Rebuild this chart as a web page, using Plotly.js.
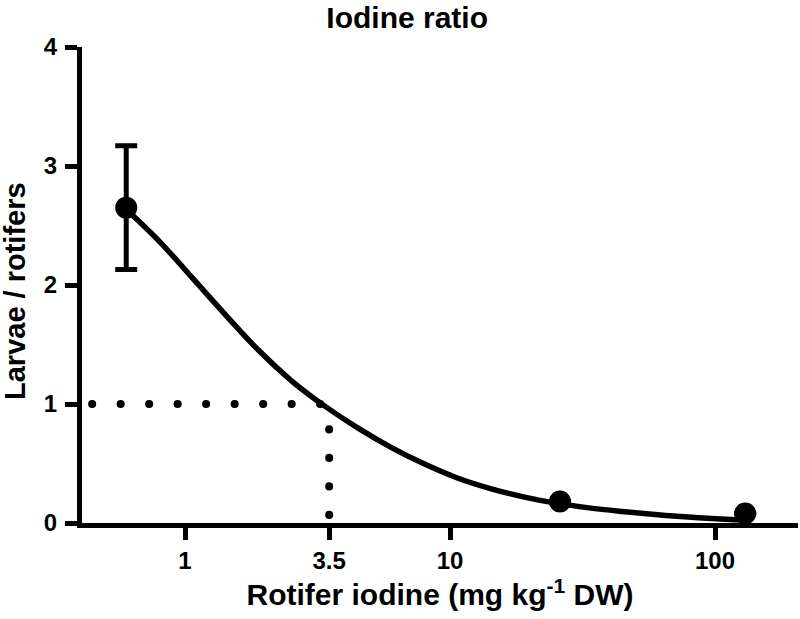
<!DOCTYPE html>
<html>
<head>
<meta charset="utf-8">
<script src="https://cdn.plot.ly/plotly-3.0.1.min.js"></script>
<style>
  html, body { margin: 0; padding: 0; background: #fff; }
  #chart { width: 800px; height: 619px; }
  .scatterlayer .trace:nth-child(1) path.js-line { stroke-linecap: round !important; stroke-dashoffset: 18.4px; }
  .scatterlayer .trace:nth-child(2) path.js-line { stroke-linecap: round !important; stroke-dashoffset: 20.4px; }
</style>
</head>
<body>
<div id="chart"></div>
<script>
// Measured points (mean +/- error)
const pointX = [0.6, 26, 130];
const pointY = [2.65, 0.18, 0.08];
const pointErr = [0.52, null, null];

// Fitted curve
const fitX = [0.604, 0.805, 1.07, 1.43, 1.90, 2.53, 3.38, 4.50, 5.99, 7.98, 10.6, 14.2, 18.9, 25.1, 33.5, 44.6, 59.4, 79.1, 105, 130];
const fitY = [2.630, 2.361, 2.056, 1.743, 1.449, 1.193, 0.980, 0.797, 0.636, 0.497, 0.380, 0.289, 0.220, 0.167, 0.127, 0.097, 0.071, 0.050, 0.034, 0.024];

// Reference (ratio = 1 at 3.5 mg/kg)
const refX = 3.5;
const refY = 1;

// Axis ticks
const xTickVals = [1, 3.5, 10, 100];
const xTickText = ['1', '3.5', '10', '100'];
const yTickVals = [0, 1, 2, 3, 4];

const xLogRange = [-0.3887, 2.3132];
const xMin = Math.pow(10, xLogRange[0]);

const FONT = '"Liberation Sans", Arial, Helvetica, sans-serif';

const traces = [
  { // horizontal dotted guide
    x: [xMin, refX], y: [refY, refY], mode: 'lines', hoverinfo: 'skip',
    line: { color: '#000', width: 8, dash: '0.1px,28.4px' }, showlegend: false
  },
  { // vertical dotted guide
    x: [refX, refX], y: [0, refY], mode: 'lines', hoverinfo: 'skip',
    line: { color: '#000', width: 8, dash: '0.1px,28.4px' }, showlegend: false
  },
  { // fitted curve
    x: fitX, y: fitY, mode: 'lines',
    line: { color: '#000', width: 5.5, shape: 'spline', smoothing: 1 }, showlegend: false
  },
  { // data points
    x: pointX, y: pointY, mode: 'markers',
    marker: { color: '#000', size: 22 },
    error_y: { type: 'data', array: pointErr, visible: true, color: '#000', thickness: 5, width: 11 },
    showlegend: false
  }
];

const layout = {
  width: 800, height: 619,
  margin: { l: 82, r: 2, t: 47, b: 96 },
  paper_bgcolor: '#fff', plot_bgcolor: '#fff',
  font: { family: FONT, color: '#000' },
  title: {
    text: 'Iodine ratio',
    font: { family: FONT, size: 30, weight: 700, color: '#000' },
    x: 0.509, xanchor: 'center', y: 0.972, yanchor: 'middle', yref: 'container'
  },
  xaxis: {
    type: 'log', range: xLogRange,
    tickmode: 'array', tickvals: xTickVals, ticktext: xTickText,
    showgrid: false, zeroline: false,
    showline: true, linecolor: '#000', linewidth: 5,
    ticks: 'outside', ticklen: 12, tickwidth: 5, tickcolor: '#000',
    tickfont: { family: FONT, size: 24, weight: 700, color: '#000' },
    title: { text: 'Rotifer iodine (mg kg<sup>-1</sup> DW)', font: { family: FONT, size: 30, weight: 700, color: '#000' }, standoff: 10 }
  },
  yaxis: {
    range: [0, 4],
    tickmode: 'array', tickvals: yTickVals,
    showgrid: false, zeroline: false,
    showline: true, linecolor: '#000', linewidth: 5,
    ticks: 'outside', ticklen: 12, tickwidth: 5, tickcolor: '#000',
    ticklabelstandoff: 3,
    tickfont: { family: FONT, size: 24, weight: 700, color: '#000' }
  },
  annotations: [{
    text: 'Larvae / rotifers', textangle: -90, showarrow: false,
    xref: 'paper', yref: 'paper', x: 0, y: 0.4874, xanchor: 'center', yanchor: 'middle',
    xshift: -67,
    font: { family: FONT, size: 29, weight: 700, color: '#000' }
  }]
};

Plotly.newPlot('chart', traces, layout, { displayModeBar: false, staticPlot: true });
</script>
</body>
</html>
